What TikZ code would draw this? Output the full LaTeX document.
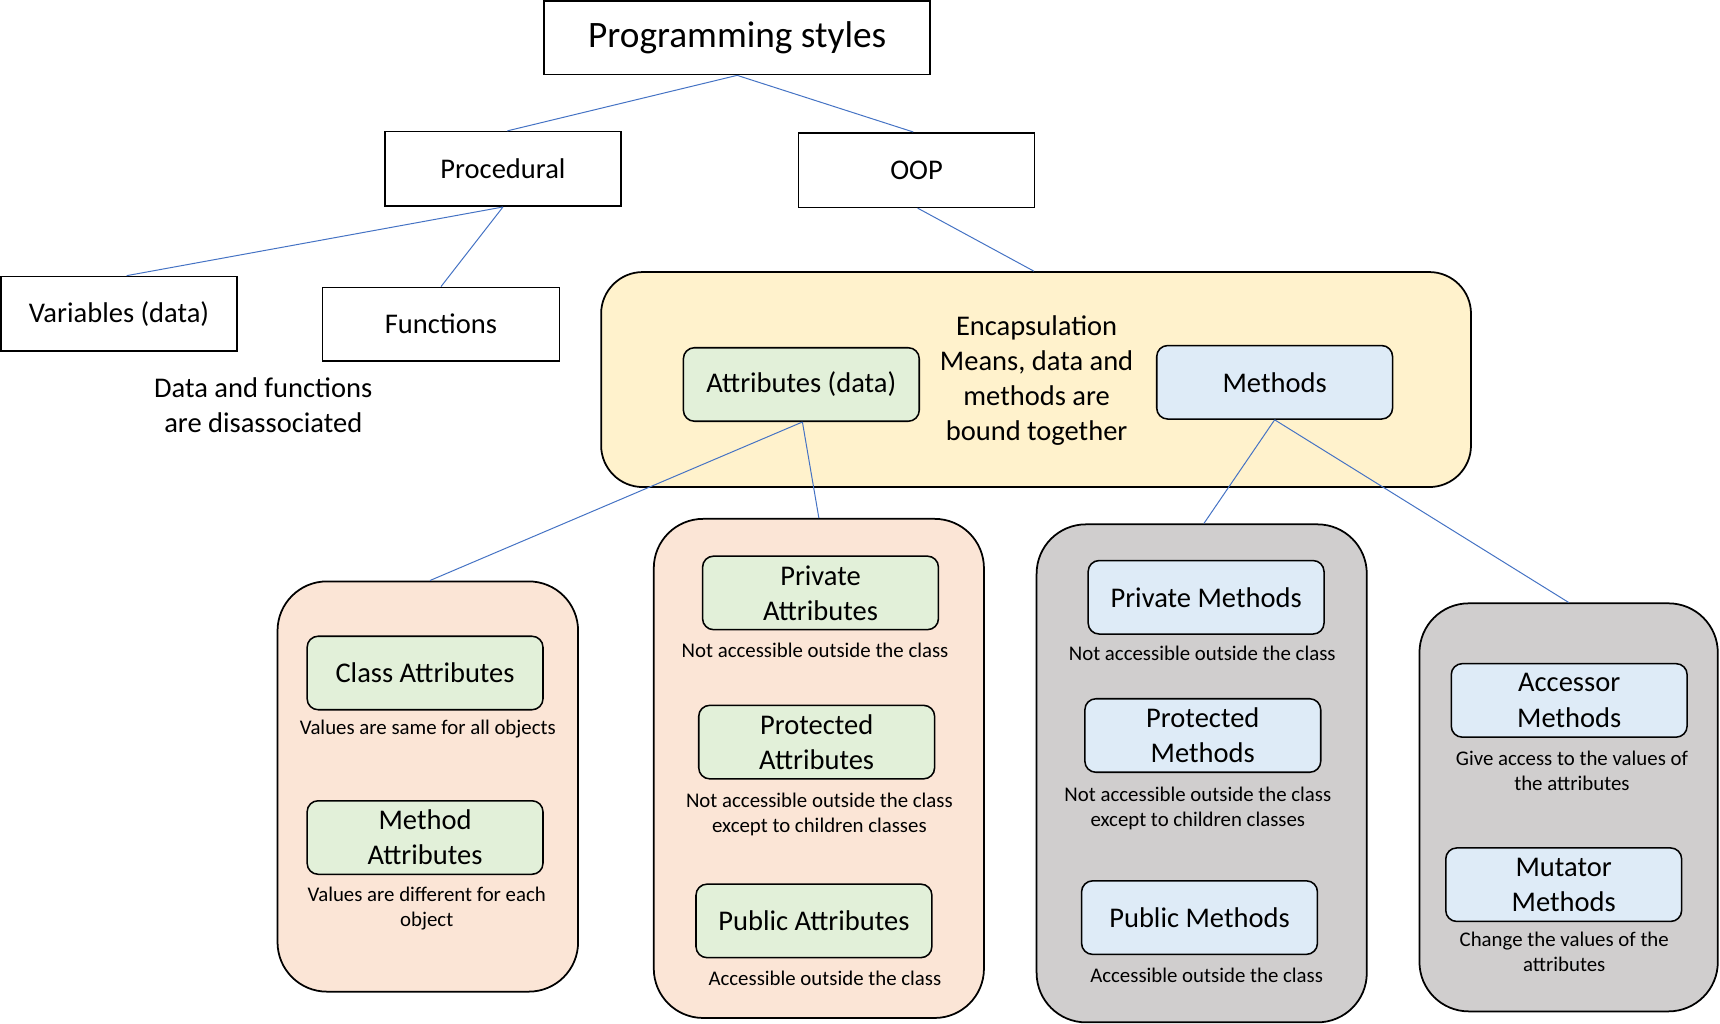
\documentclass[tikz,border=0pt]{standalone}
\usepackage{fontspec}
\setmainfont{Carlito}
\definecolor{lineblue}{HTML}{4472C4}
\definecolor{yel}{HTML}{FFF2CC}
\definecolor{peach}{HTML}{FBE5D6}
\definecolor{grn}{HTML}{E2F0D9}
\definecolor{blu}{HTML}{DEEBF7}
\definecolor{gry}{HTML}{D0CECE}
\tikzset{
  sq/.style={draw, line width=1.4pt, fill=white, inner sep=0pt, align=center,
    font=\fontsize{26}{32}\selectfont},
  big/.style={font=\fontsize{34}{40}\selectfont},
  inbox/.style={draw, line width=1.4pt, rounded corners=10pt, inner sep=0pt, align=center,
    minimum width=215pt, minimum height=67pt, font=\fontsize{26}{32}\selectfont},
  gbox/.style={inbox, fill=grn},
  bbox/.style={inbox, fill=blu},
  outer/.style={draw, line width=1.6pt, rounded corners=45pt, inner sep=0pt},
  capt/.style={align=center, inner sep=0pt, font=\fontsize{19}{23}\selectfont},
  txt/.style={align=center, inner sep=0pt, font=\fontsize{26}{32}\selectfont},
  conn/.style={draw=lineblue, line width=0.9pt},
}
\begin{document}
\begin{tikzpicture}[x=1pt,y=-1pt]
\useasboundingbox[fill=white] (0,0) rectangle (1568,932.6);
% top level
\node[sq, big, minimum width=352pt, minimum height=67pt] (ps) at (672,34.5) {Programming styles};
\node[sq, minimum width=215pt, minimum height=68pt] (proc) at (458.5,154) {Procedural};
\node[sq, minimum width=215pt, minimum height=68pt] (oop) at (835.5,155) {OOP};
\node[sq, minimum width=215pt, minimum height=68pt] (var) at (108.5,286) {Variables (data)};
\node[sq, minimum width=216pt, minimum height=67pt] (fun) at (402,295.5) {Functions};
\node[txt] (dis) at (240,369) {Data and functions\\are disassociated};
% encapsulation
\node[outer, rounded corners=38pt, fill=yel, minimum width=793pt, minimum height=196pt] (enc) at (944.5,346) {};
\node[txt] (enctxt) at (945,347) {Encapsulation\\Means, data and\\methods are\\bound together};
\node[gbox] (attr) at (730.5,350.5) {Attributes (data)};
\node[bbox] (meth) at (1162,348.5) {Methods};
% outer groups
\node[outer, fill=peach, minimum width=274pt, minimum height=374pt] (cls) at (390,717) {};
\node[outer, fill=peach, minimum width=301pt, minimum height=455pt] (pa) at (746.5,700.5) {};
\node[outer, fill=gry, minimum width=301pt, minimum height=454pt] (pm) at (1095.5,705) {};
\node[outer, fill=gry, minimum width=272pt, minimum height=372pt] (am) at (1430,736) {};
% class/method attributes
\node[gbox] (ca) at (387.5,613.5) {Class Attributes};
\node[capt] (cac) at (390,665) {Values are same for all objects};
\node[gbox] (ma) at (387.5,763.5) {Method\\Attributes};
\node[capt] (mac) at (389,828.5) {Values are different for each\\object};
% attributes access
\node[gbox] (pra) at (748,540.5) {Private\\Attributes};
\node[capt] (prac) at (743,593) {Not accessible outside the class};
\node[gbox] (pta) at (744.5,676.5) {Protected\\Attributes};
\node[capt] (ptac) at (747,742.5) {Not accessible outside the class\\except to children classes};
\node[gbox] (pua) at (742,839.5) {Public Attributes};
\node[capt] (puac) at (752,892) {Accessible outside the class};
% methods access
\node[bbox] (prm) at (1099.5,544.5) {Private Methods};
\node[capt] (prmc) at (1096,596) {Not accessible outside the class};
\node[bbox] (ptm) at (1096.5,670.5) {Protected\\Methods};
\node[capt] (ptmc) at (1092,737) {Not accessible outside the class\\except to children classes};
\node[bbox] (pum) at (1093.5,836.5) {Public Methods};
\node[capt] (pumc) at (1100,889) {Accessible outside the class};
% accessor / mutator
\node[bbox] (acc) at (1430.5,638.5) {Accessor\\Methods};
\node[capt] (accc) at (1433,703) {Give access to the values of\\the attributes};
\node[bbox] (mut) at (1425.5,806.5) {Mutator\\Methods};
\node[capt] (mutc) at (1426,868) {Change the values of the\\attributes};
% connectors
\draw[conn] (ps.south) -- ([xshift=4pt]proc.north);
\draw[conn] (ps.south) -- ([xshift=-3pt]oop.north);
\draw[conn] (proc.south) -- ([xshift=7pt]var.north);
\draw[conn] (proc.south) -- (fun.north);
\draw[conn] ([xshift=1pt]oop.south) -- ([xshift=-2pt]enc.north);
\draw[conn] ([xshift=1pt]attr.south) -- ([xshift=2pt]cls.north);
\draw[conn] ([xshift=1pt]attr.south) -- (pa.north);
\draw[conn] (meth.south) -- ([xshift=2pt]pm.north);
\draw[conn] (meth.south) -- (am.north);
\end{tikzpicture}
\end{document}
